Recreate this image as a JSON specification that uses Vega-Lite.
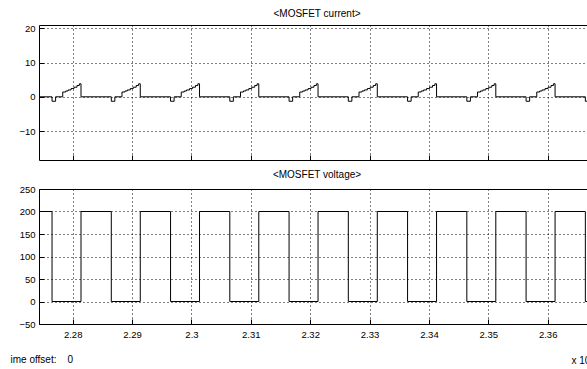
{
  "$schema": "https://vega.github.io/schema/vega-lite/v6.json",
  "padding": {"left": 9, "top": 8, "right": 0, "bottom": 0},
  "background": "white",
  "config": {
    "font": "Liberation Sans",
    "view": {"stroke": "black", "strokeWidth": 1},
    "axis": {"grid": true, "gridColor": "black", "gridDash": [1, 3], "gridOpacity": 1, "gridWidth": 1, "domain": false, "tickColor": "black", "tickSize": -5, "labelColor": "black", "labelFont": "Liberation Sans", "labelFontSize": 9.5, "labelPadding": 9, "titleFont": "Liberation Sans", "titleFontSize": 10, "titleFontWeight": "normal", "titleColor": "black"},
    "title": {"font": "Liberation Sans", "fontSize": 10, "fontWeight": "normal", "offset": 4, "color": "black"},
    "concat": {"spacing": 8}
  },
  "datasets": {
    "current": [
      {"t": 2.2743, "i": 0},
      {"t": 2.27652, "i": -1.3}, {"t": 2.27712, "i": 0}, {"t": 2.27832, "i": 1.4}, {"t": 2.27882, "i": 1.7}, {"t": 2.27922, "i": 2.0}, {"t": 2.27972, "i": 2.4}, {"t": 2.28022, "i": 2.8}, {"t": 2.28072, "i": 3.3}, {"t": 2.28112, "i": 3.8}, {"t": 2.28140, "i": 0},
      {"t": 2.28650, "i": -1.3}, {"t": 2.28710, "i": 0}, {"t": 2.28830, "i": 1.4}, {"t": 2.28880, "i": 1.7}, {"t": 2.28920, "i": 2.0}, {"t": 2.28970, "i": 2.4}, {"t": 2.29020, "i": 2.8}, {"t": 2.29070, "i": 3.3}, {"t": 2.29110, "i": 3.8}, {"t": 2.29138, "i": 0},
      {"t": 2.29648, "i": -1.3}, {"t": 2.29708, "i": 0}, {"t": 2.29828, "i": 1.4}, {"t": 2.29878, "i": 1.7}, {"t": 2.29918, "i": 2.0}, {"t": 2.29968, "i": 2.4}, {"t": 2.30018, "i": 2.8}, {"t": 2.30068, "i": 3.3}, {"t": 2.30108, "i": 3.8}, {"t": 2.30136, "i": 0},
      {"t": 2.30646, "i": -1.3}, {"t": 2.30706, "i": 0}, {"t": 2.30826, "i": 1.4}, {"t": 2.30876, "i": 1.7}, {"t": 2.30916, "i": 2.0}, {"t": 2.30966, "i": 2.4}, {"t": 2.31016, "i": 2.8}, {"t": 2.31066, "i": 3.3}, {"t": 2.31106, "i": 3.8}, {"t": 2.31134, "i": 0},
      {"t": 2.31644, "i": -1.3}, {"t": 2.31704, "i": 0}, {"t": 2.31824, "i": 1.4}, {"t": 2.31874, "i": 1.7}, {"t": 2.31914, "i": 2.0}, {"t": 2.31964, "i": 2.4}, {"t": 2.32014, "i": 2.8}, {"t": 2.32064, "i": 3.3}, {"t": 2.32104, "i": 3.8}, {"t": 2.32132, "i": 0},
      {"t": 2.32642, "i": -1.3}, {"t": 2.32702, "i": 0}, {"t": 2.32822, "i": 1.4}, {"t": 2.32872, "i": 1.7}, {"t": 2.32912, "i": 2.0}, {"t": 2.32962, "i": 2.4}, {"t": 2.33012, "i": 2.8}, {"t": 2.33062, "i": 3.3}, {"t": 2.33102, "i": 3.8}, {"t": 2.33130, "i": 0},
      {"t": 2.33640, "i": -1.3}, {"t": 2.33700, "i": 0}, {"t": 2.33820, "i": 1.4}, {"t": 2.33870, "i": 1.7}, {"t": 2.33910, "i": 2.0}, {"t": 2.33960, "i": 2.4}, {"t": 2.34010, "i": 2.8}, {"t": 2.34060, "i": 3.3}, {"t": 2.34100, "i": 3.8}, {"t": 2.34128, "i": 0},
      {"t": 2.34638, "i": -1.3}, {"t": 2.34698, "i": 0}, {"t": 2.34818, "i": 1.4}, {"t": 2.34868, "i": 1.7}, {"t": 2.34908, "i": 2.0}, {"t": 2.34958, "i": 2.4}, {"t": 2.35008, "i": 2.8}, {"t": 2.35058, "i": 3.3}, {"t": 2.35098, "i": 3.8}, {"t": 2.35126, "i": 0},
      {"t": 2.35636, "i": -1.3}, {"t": 2.35696, "i": 0}, {"t": 2.35816, "i": 1.4}, {"t": 2.35866, "i": 1.7}, {"t": 2.35906, "i": 2.0}, {"t": 2.35956, "i": 2.4}, {"t": 2.36006, "i": 2.8}, {"t": 2.36056, "i": 3.3}, {"t": 2.36096, "i": 3.8}, {"t": 2.36124, "i": 0},
      {"t": 2.36634, "i": -1.3}, {"t": 2.36694, "i": 0}, {"t": 2.36814, "i": 1.4}, {"t": 2.3685, "i": 1.4}
    ],
    "voltage": [
      {"t": 2.2743, "v": 200},
      {"t": 2.27652, "v": 0}, {"t": 2.28140, "v": 200},
      {"t": 2.28650, "v": 0}, {"t": 2.29138, "v": 200},
      {"t": 2.29648, "v": 0}, {"t": 2.30136, "v": 200},
      {"t": 2.30646, "v": 0}, {"t": 2.31134, "v": 200},
      {"t": 2.31644, "v": 0}, {"t": 2.32132, "v": 200},
      {"t": 2.32642, "v": 0}, {"t": 2.33130, "v": 200},
      {"t": 2.33640, "v": 0}, {"t": 2.34128, "v": 200},
      {"t": 2.34638, "v": 0}, {"t": 2.35126, "v": 200},
      {"t": 2.35636, "v": 0}, {"t": 2.36124, "v": 200},
      {"t": 2.36634, "v": 0}, {"t": 2.3685, "v": 0}
    ]
  },
  "vconcat": [
    {
      "width": 556,
      "height": 135,
      "title": "<MOSFET current>",
      "data": {"name": "current"},
      "mark": {"type": "line", "interpolate": "step-after", "color": "black", "strokeWidth": 1, "clip": true},
      "encoding": {
        "x": {"field": "t", "type": "quantitative", "scale": {"domain": [2.274324, 2.367966], "nice": false, "zero": false},
              "axis": {"values": [2.28, 2.29, 2.3, 2.31, 2.32, 2.33, 2.34, 2.35, 2.36], "labels": false, "title": null}},
        "y": {"field": "i", "type": "quantitative", "scale": {"domain": [-18.45, 20.96], "nice": false, "zero": false},
              "axis": {"values": [-10, 0, 10, 20], "title": null}}
      }
    },
    {
      "width": 556,
      "height": 135,
      "title": "<MOSFET voltage>",
      "data": {"name": "voltage"},
      "mark": {"type": "line", "interpolate": "step-after", "color": "black", "strokeWidth": 1, "clip": true},
      "encoding": {
        "x": {"field": "t", "type": "quantitative", "scale": {"domain": [2.274324, 2.367966], "nice": false, "zero": false},
              "axis": {"values": [2.28, 2.29, 2.3, 2.31, 2.32, 2.33, 2.34, 2.35, 2.36], "format": ".3~g", "labelPadding": 10,
                       "title": "x 10", "titleX": 532, "titleY": 36, "titleAlign": "left", "titleBaseline": "middle"}},
        "y": {"field": "v", "type": "quantitative", "scale": {"domain": [-50, 250], "nice": false, "zero": false},
              "axis": {"values": [-50, 0, 50, 100, 150, 200, 250], "title": "ime offset:\u00a0\u00a0\u00a0\u00a00",
                       "titleAngle": 0, "titleX": -29, "titleY": 170, "titleAlign": "left", "titleBaseline": "middle"}}
      }
    }
  ]
}
